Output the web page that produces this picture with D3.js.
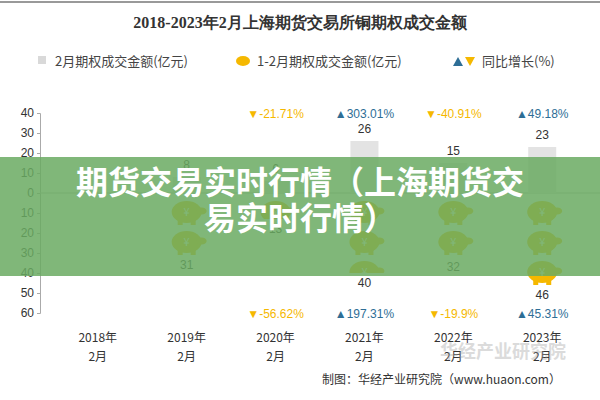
<!DOCTYPE html><html><head><meta charset="utf-8"><script src="https://cdn.jsdelivr.net/npm/d3@7"></script>
<style>body{margin:0;background:#fff}svg{font-family:"Noto Sans CJK SC",sans-serif}</style></head><body><svg id="c" width="600" height="400"></svg>
<script>
const categories=["2018年|2月","2019年|2月","2020年|2月","2021年|2月","2022年|2月","2023年|2月"];
const febValues=[null,8,6,26,15,23];
const cumValues=[null,31,13,40,32,46];
const febGrowth=[null,null,"-21.71%","303.01%","-40.91%","49.18%"];
const cumGrowth=[null,null,"-56.62%","197.31%","-19.9%","45.31%"];
const yTicks=[40,30,20,10,0,-10,-20,-30,-40,-50,-60];
const svg=d3.select("#c");
svg.append("line").attr("x1",0).attr("x2",600).attr("y1",2).attr("y2",2).attr("stroke","#999").attr("stroke-width",2);
svg.append("text").attr("x",300).attr("y",28).attr("text-anchor","middle").attr("font-size",16).attr("font-weight","bold").attr("fill","#333").attr("font-family","serif").text("2018-2023年2月上海期货交易所铜期权成交金额");
svg.append("rect").attr("x",38).attr("y",56).attr("width",8).attr("height",8).attr("fill","#d9d9d9");
svg.append("text").attr("x",55).attr("y",66).attr("font-size",13).attr("fill","#444").text("2月期权成交金额(亿元)");
svg.append("ellipse").attr("cx",243).attr("cy",61).attr("rx",7).attr("ry",5).attr("fill","#f5b800");
svg.append("text").attr("x",257).attr("y",66).attr("font-size",13).attr("fill","#444").text("1-2月期权成交金额(亿元)");
svg.append("path").attr("d","M453,66 l5,-9 l5,9z").attr("fill","#2e6e96");
svg.append("path").attr("d","M465,57 l10,0 l-5,9z").attr("fill","#f5b800");
svg.append("text").attr("x",482).attr("y",66).attr("font-size",13).attr("fill","#444").text("同比增长(%)");
const yy=d3.scaleLinear().domain([40,-60]).range([113,313]);
const x=d3.scaleBand().domain(categories).range([40,600]).padding(0.3);
const ax=svg.append("g").attr("transform","translate(40,0)").call(d3.axisLeft(yy).tickValues(yTicks).tickFormat(d=>Math.abs(d)).tickSize(3));
ax.select(".domain").attr("stroke","#aaa");ax.selectAll(".tick line").attr("stroke","#aaa");
ax.selectAll("text").attr("font-size",12).attr("fill","#333").attr("font-family","Arial");
svg.append("line").attr("x1",40).attr("x2",600).attr("y1",yy(0)).attr("y2",yy(0)).attr("stroke","#bbb");
const cx=c=>x(c)+x.bandwidth()/2;
categories.forEach((c,i)=>{
 const f=febValues[i],m=cumValues[i];
 if(f!=null){
  svg.append("rect").attr("x",cx(c)-14).attr("width",28).attr("y",yy(f)).attr("height",yy(0)-yy(f)).attr("fill","#e3e3e3");
  svg.append("text").attr("x",cx(c)).attr("y",yy(f)-8).attr("text-anchor","middle").attr("font-size",12).attr("fill","#333").attr("font-family","Arial").text(f);
 }
 if(m!=null){
  const clip="cl"+i;
  svg.append("clipPath").attr("id",clip).append("rect").attr("x",cx(c)-30).attr("width",60).attr("y",yy(0)).attr("height",yy(-m)-yy(0));
  const gg=svg.append("g").attr("clip-path",`url(#${clip})`);
  for(let k=0;k<m;k+=15){
   const yc=(yy(-k)+yy(-k-15))/2+4;
   gg.append("ellipse").attr("cx",cx(c)).attr("cy",yc).attr("rx",15).attr("ry",11).attr("fill","#f5b800");
   gg.append("ellipse").attr("cx",cx(c)+15).attr("cy",yc-1).attr("rx",5).attr("ry",3.5).attr("fill","#f5b800");
   gg.append("rect").attr("x",cx(c)-9).attr("y",yc+8).attr("width",5).attr("height",5).attr("fill","#f5b800");
   gg.append("rect").attr("x",cx(c)+4).attr("y",yc+8).attr("width",5).attr("height",5).attr("fill","#f5b800");
   gg.append("text").attr("x",cx(c)).attr("y",yc+4).attr("text-anchor","middle").attr("font-size",11).attr("fill","#fff").text("¥");
  }
  svg.append("text").attr("x",cx(c)).attr("y",yy(-m)+14).attr("text-anchor","middle").attr("font-size",12).attr("fill","#333").attr("font-family","Arial").text(m);
 }
 const lbl=c.split("|");
 svg.append("text").attr("x",cx(c)).attr("y",342).attr("text-anchor","middle").attr("font-size",12).attr("fill","#333").text(lbl[0]);
 svg.append("text").attr("x",cx(c)).attr("y",361).attr("text-anchor","middle").attr("font-size",12).attr("fill","#333").text(lbl[1]);
 [[febGrowth[i],118],[cumGrowth[i],318]].forEach(([g,yp])=>{
  if(!g)return;
  const up=!g.startsWith("-");
  svg.append("text").attr("x",cx(c)).attr("y",yp).attr("text-anchor","middle").attr("font-size",12).attr("font-family","Arial").attr("fill",up?"#2e6e96":"#f5b800").text((up?"▲":"▼")+g);
 });
});
svg.append("text").attr("x",322).attr("y",384).attr("font-size",12).attr("fill","#333").text("制图：华经产业研究院（www.huaon.com）");
svg.append("text").attr("x",440).attr("y",358).attr("font-size",18).attr("font-weight","bold").attr("fill","#999").attr("opacity",0.35).text("华经产业研究院");
svg.append("rect").attr("x",0).attr("y",157).attr("width",600).attr("height",119).attr("fill","#6aaa62").attr("opacity",0.85);
svg.append("text").attr("x",300).attr("y",194).attr("text-anchor","middle").attr("font-size",32).attr("font-weight","bold").attr("fill","#fff").text("期货交易实时行情（上海期货交");
svg.append("text").attr("x",300).attr("y",230).attr("text-anchor","middle").attr("font-size",32).attr("font-weight","bold").attr("fill","#fff").text("易实时行情）");
</script></body></html>
